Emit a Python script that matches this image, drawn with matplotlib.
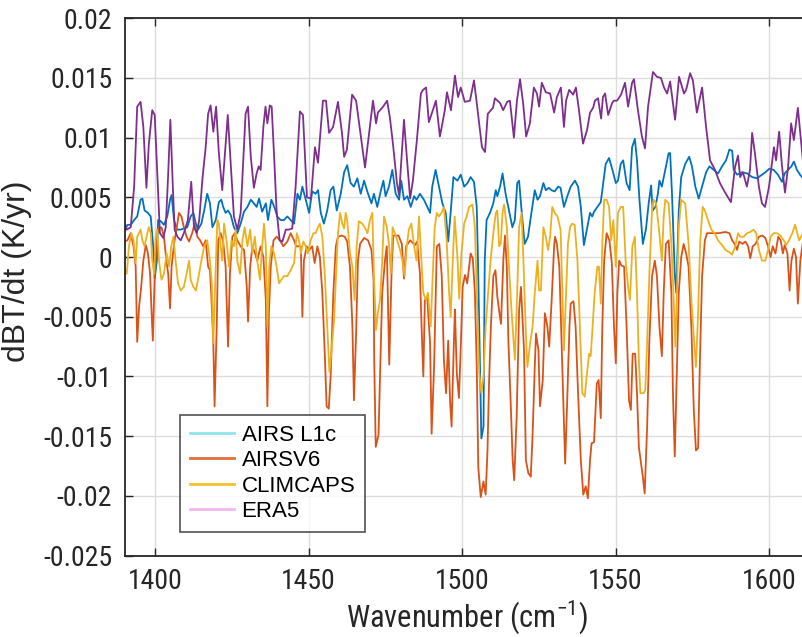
import numpy as np
import matplotlib
matplotlib.use("Agg")
import matplotlib.pyplot as plt
from matplotlib.lines import Line2D

plt.rcParams['font.family'] = ['Liberation Sans', 'DejaVu Sans']
plt.rcParams['axes.unicode_minus'] = False
plt.rcParams['mathtext.fontset'] = 'custom'
plt.rcParams['mathtext.rm'] = 'Roboto Condensed'
plt.rcParams['mathtext.it'] = 'Roboto Condensed:italic'
plt.rcParams['mathtext.default'] = 'regular'
narrow = ['Roboto Condensed', 'Archivo Narrow', 'Liberation Sans']

# trend values, in units of 1e-3 K/yr
airs_wn = [1389.9, 1391.0, 1392.1, 1393.2, 1394.2, 1395.3, 1395.9, 1396.6, 1397.7, 1398.6, 1399.4, 1399.9, 1400.6, 1401.0,
           1401.9, 1402.9, 1404.0, 1404.9, 1405.4, 1406.2, 1407.1, 1408.4, 1409.4, 1410.5, 1411.6, 1412.5, 1413.3, 1414.0,
           1415.1, 1416.0, 1417.0, 1417.9, 1418.7, 1419.8, 1420.8, 1421.6, 1422.2, 1423.0, 1423.8, 1424.7, 1425.7, 1426.8,
           1427.9, 1429.0, 1430.1, 1431.2, 1432.2, 1433.1, 1433.9, 1434.9, 1436.1, 1436.8, 1437.9, 1439.0, 1439.8, 1440.9,
           1442.0, 1443.1, 1444.2, 1445.3, 1446.4, 1447.2, 1448.0, 1449.1, 1450.2, 1451.2, 1452.3, 1453.1, 1454.0, 1455.0,
           1456.1, 1457.2, 1458.1, 1459.2, 1460.5, 1461.6, 1462.6, 1463.7, 1464.8, 1465.9, 1467.0, 1468.1, 1469.4, 1470.5,
           1471.3, 1472.4, 1473.5, 1474.4, 1475.1, 1476.2, 1477.3, 1478.4, 1479.5, 1480.2, 1481.1, 1482.2, 1483.3, 1484.4,
           1485.2, 1486.3, 1487.6, 1488.7, 1489.6, 1490.3, 1491.4, 1492.5, 1493.6, 1494.7, 1495.5, 1496.3, 1497.2, 1498.5,
           1499.6, 1500.7, 1501.8, 1502.8, 1503.9, 1504.8, 1505.2, 1505.9, 1506.3, 1507.0, 1507.4, 1508.0, 1509.1, 1510.2,
           1511.0, 1511.5, 1512.4, 1513.2, 1514.2, 1515.3, 1516.4, 1517.2, 1518.0, 1518.6, 1519.3, 1520.4, 1521.5, 1522.6,
           1523.7, 1524.6, 1525.4, 1526.5, 1527.3, 1528.3, 1529.1, 1530.2, 1531.3, 1532.1, 1533.2, 1534.3, 1535.4, 1536.8,
           1537.8, 1538.7, 1539.7, 1540.8, 1541.7, 1542.4, 1543.0, 1544.1, 1545.2, 1546.0, 1546.8, 1547.9, 1549.0, 1550.1,
           1550.8, 1551.7, 1552.5, 1553.6, 1554.6, 1555.4, 1556.3, 1557.0, 1557.8, 1558.9, 1559.9, 1560.8, 1561.6, 1562.1,
           1563.0, 1563.8, 1564.3, 1565.1, 1566.2, 1567.3, 1567.8, 1568.4, 1569.3, 1569.8, 1570.6, 1571.4, 1572.7, 1574.0,
           1574.9, 1576.0, 1577.1, 1578.2, 1579.5, 1580.6, 1582.0, 1583.4, 1584.7, 1586.0, 1587.1, 1588.0, 1588.5, 1589.6,
           1591.2, 1592.9, 1594.5, 1596.1, 1597.7, 1598.8, 1600.1, 1601.5, 1602.9, 1604.2, 1605.1, 1606.2, 1607.3, 1608.1,
           1609.1, 1610.1, 1611.1]
airs_val = [2.0, 2.7, 2.7, 3.1, 3.4, 4.8, 4.9, 3.9, 3.7, 3.4, 0.9, -1.8, -0.3, 3.1,
            3.0, 2.7, 3.4, 4.8, 5.2, 3.1, 2.3, 2.3, 2.4, 2.5, 3.4, 3.7, 2.8, 2.3,
            2.8, 3.9, 5.3, 4.5, 2.5, 3.1, 4.6, 4.8, 4.2, 3.7, 3.9, 3.5, 2.5, 2.0,
            2.8, 3.8, 4.2, 4.8, 4.5, 4.2, 4.9, 3.8, 4.5, 3.1, 4.8, 4.1, 3.4, 3.1,
            3.1, 3.4, 3.1, 2.8, 5.3, 4.8, 5.9, 4.8, 3.7, 5.5, 5.3, 5.6, 3.7, 2.8,
            3.9, 5.6, 5.9, 3.9, 5.3, 7.1, 7.7, 6.2, 5.9, 6.6, 5.3, 6.4, 5.3, 4.5,
            5.3, 4.2, 5.5, 6.4, 5.1, 5.9, 7.3, 5.3, 4.8, 6.4, 4.8, 5.1, 4.2, 5.1,
            4.8, 5.3, 4.8, 4.2, 3.7, 5.9, 7.3, 5.9, 4.5, 3.7, 1.3, 3.7, 6.7, 6.4,
            6.9, 5.9, 6.2, 6.7, 6.3, 4.2, -0.3, -10.0, -15.2, -14.2, -0.3, 3.1, 3.7, 4.5,
            5.6, 5.1, 5.9, 7.0, 5.3, 3.9, 2.5, 3.1, 6.2, 6.4, 4.2, 1.1, 1.7, 3.7,
            5.6, 4.8, 5.1, 6.2, 5.6, 5.8, 5.6, 5.5, 5.9, 5.8, 4.2, 5.1, 5.9, 6.4,
            5.9, 4.2, 1.0, 2.5, 3.7, 3.4, 3.8, 4.2, 4.6, 6.2, 7.8, 8.3, 7.3, 6.2,
            6.4, 7.8, 8.1, 6.2, 5.6, 9.2, 9.9, 8.1, 4.8, 1.1, 2.3, 4.5, 6.0, 3.9,
            4.2, 5.3, 6.4, 5.9, 7.3, 8.7, 8.7, 5.3, -1.4, -3.0, 3.9, 6.7, 7.8, 8.4,
            7.6, 5.9, 4.9, 5.9, 7.1, 7.6, 7.3, 7.0, 7.6, 8.1, 9.0, 8.9, 7.3, 6.9,
            7.1, 7.0, 6.7, 6.6, 6.9, 7.1, 7.4, 7.3, 6.9, 6.3, 7.0, 7.3, 7.6, 8.0,
            7.3, 6.9, 6.6]

v6_wn = [1389.9, 1391.0, 1392.1, 1393.0, 1393.7, 1394.2, 1394.8, 1395.5, 1396.2, 1397.0, 1397.7, 1398.4, 1398.9, 1399.3,
         1399.9, 1400.6, 1401.3, 1402.1, 1402.9, 1403.8, 1404.3, 1404.9, 1405.4, 1406.2, 1407.1, 1407.8, 1408.6, 1409.4,
         1410.3, 1411.1, 1412.1, 1412.9, 1413.8, 1414.7, 1415.7, 1416.5, 1417.3, 1417.9, 1418.3, 1419.0, 1419.4, 1420.1,
         1420.6, 1421.4, 1422.2, 1423.0, 1423.8, 1424.4, 1425.2, 1426.0, 1426.8, 1427.9, 1429.0, 1429.9, 1430.3, 1431.0,
         1431.7, 1432.5, 1433.3, 1434.4, 1435.3, 1436.1, 1436.6, 1437.1, 1437.7, 1438.6, 1439.6, 1440.7, 1441.8, 1443.1,
         1444.2, 1445.3, 1446.0, 1447.5, 1448.0, 1448.5, 1449.4, 1450.2, 1451.2, 1452.0, 1452.9, 1453.7, 1454.5, 1455.3,
         1455.9, 1456.6, 1457.2, 1458.1, 1458.9, 1459.6, 1460.7, 1461.8, 1462.6, 1463.5, 1464.3, 1464.8, 1465.5, 1466.1,
         1466.8, 1468.1, 1469.4, 1470.5, 1471.2, 1471.4, 1471.9, 1472.8, 1473.3, 1474.0, 1474.9, 1475.5, 1476.3, 1477.1,
         1477.6, 1479.3, 1480.4, 1481.1, 1481.8, 1483.1, 1484.7, 1485.4, 1486.3, 1486.9, 1487.4, 1487.9, 1488.7, 1489.6,
         1490.1, 1490.9, 1491.8, 1492.6, 1493.4, 1494.1, 1494.8, 1495.5, 1496.1, 1496.6, 1497.4, 1497.7, 1498.3, 1499.0,
         1499.6, 1500.2, 1501.0, 1501.7, 1502.8, 1503.5, 1504.2, 1504.8, 1505.3, 1506.1, 1507.0, 1507.7, 1508.3, 1508.8,
         1509.4, 1510.2, 1510.9, 1511.5, 1512.2, 1512.7, 1513.5, 1514.0, 1514.6, 1515.1, 1515.9, 1516.5, 1517.0, 1517.8,
         1518.6, 1519.2, 1520.2, 1520.8, 1521.6, 1522.4, 1523.0, 1523.7, 1524.1, 1524.9, 1525.4, 1526.3, 1527.0, 1527.8,
         1528.4, 1529.2, 1530.0, 1530.3, 1530.9, 1531.7, 1532.5, 1533.6, 1534.1, 1535.0, 1535.4, 1536.3, 1537.0, 1537.8,
         1538.7, 1539.5, 1540.3, 1541.0, 1541.7, 1542.2, 1543.0, 1543.9, 1544.5, 1545.2, 1545.7, 1546.3, 1547.1, 1548.0,
         1548.8, 1549.5, 1550.1, 1550.6, 1551.2, 1551.9, 1552.8, 1553.6, 1554.4, 1555.0, 1555.6, 1556.4, 1557.0, 1557.6,
         1558.9, 1559.5, 1560.3, 1561.0, 1561.9, 1562.8, 1563.5, 1564.3, 1565.1, 1565.7, 1566.4, 1567.3, 1568.2, 1568.7,
         1569.3, 1569.8, 1570.6, 1571.4, 1572.2, 1573.0, 1573.8, 1574.7, 1575.5, 1576.2, 1576.9, 1577.5, 1578.2, 1579.1,
         1579.8, 1581.4, 1583.6, 1585.8, 1587.1, 1588.0, 1588.8, 1589.6, 1590.3, 1591.4, 1592.3, 1593.2, 1593.9, 1594.7,
         1595.6, 1596.7, 1597.8, 1598.8, 1599.7, 1600.5, 1601.2, 1602.1, 1603.0, 1603.8, 1604.5, 1605.1, 1606.0, 1606.7,
         1607.3, 1608.1, 1608.8, 1609.4, 1610.2, 1611.1]
v6_val = [1.3, 1.4, 2.0, 0.9, -0.8, -7.1, -4.2, -2.5, -0.3, 1.0, 0.3, -1.4, -4.7, -7.0,
          -1.6, 2.0, 2.4, 2.5, 1.7, -0.5, -1.4, -4.3, -0.8, 1.1, 2.5, 3.7, 3.4, 2.5,
          1.7, 1.3, 2.0, 2.8, 1.7, 1.4, 0.9, 1.4, -0.8, -1.1, -3.0, -7.2, -12.5, -5.8,
          1.4, 2.0, 1.3, -0.8, -7.5, -1.4, 1.7, 2.0, 1.4, 0.9, 0.6, -2.5, -5.4, -0.8,
          0.9, 0.4, -0.3, 0.9, 0.0, -3.6, -12.5, -4.7, -0.8, 1.4, 1.7, 1.4, 0.9, 1.3,
          2.0, 1.4, 0.9, 0.9, -5.0, -0.3, 0.9, 0.6, 0.9, -0.5, 0.9, 0.0, -3.0, -8.1,
          -12.5, -12.7, -10.0, -3.0, 0.9, 1.7, 1.8, 1.7, 1.3, -0.8, -5.8, -12.0, -6.4, -0.3,
          1.1, 1.6, 1.4, 0.6, -1.9, -8.6, -15.9, -14.9, -10.0, -3.0, -0.3, 0.9, -9.0, -0.8,
          1.8, 1.8, 1.1, -1.8, 0.9, 1.4, 1.0, 1.3, -1.4, -6.4, -10.0, -3.6, -3.5, -7.2,
          -14.8, -9.2, 0.9, 1.1, -1.6, -8.6, -11.4, -7.0, -12.0, -14.2, -6.7, -4.4, -9.7, -11.8,
          -7.5, -2.5, -1.5, -2.2, 0.3, -0.1, -3.0, -9.2, -17.6, -20.1, -18.8, -19.9, -16.2, -10.6,
          -5.8, -1.6, -1.1, -3.3, -4.7, -5.6, 0.0, 1.8, -0.8, -7.0, -12.5, -17.0, -18.7, -13.4,
          -4.4, -2.5, -7.8, -17.0, -18.1, -18.4, -14.8, -9.2, -6.4, -7.8, -12.5, -10.3, -4.7, -5.8,
          -7.5, -3.6, 0.9, 1.7, 1.1, -0.8, -7.8, -17.3, -13.4, -5.8, -3.9, -3.7, -5.8, -11.4,
          -17.0, -19.9, -19.2, -20.2, -17.0, -15.6, -15.5, -10.6, -10.3, -13.5, -5.8, -0.3, 2.0, 1.4,
          -0.5, -5.8, -8.9, -3.0, -0.3, -0.7, -0.8, -5.8, -12.0, -12.8, -8.1, -8.1, -11.4, -15.9,
          -18.4, -19.8, -14.2, -7.2, -1.6, -0.3, -1.6, -5.8, -8.3, -3.0, 1.1, 1.4, -3.0, -11.4,
          -16.7, -11.4, -3.0, 0.0, 1.1, 0.3, -0.8, -5.8, -12.8, -16.2, -16.0, -8.6, -1.6, 1.4,
          2.0, 2.0, 2.0, 2.1, 2.0, 1.4, 1.1, 0.6, 1.3, 1.1, 1.3, 0.9, -0.1, 0.9,
          1.1, 1.7, 1.8, 1.6, 0.9, 0.0, 0.9, 0.3, 1.7, 1.4, 0.3, 1.0, 0.3, -2.8,
          -0.3, 0.7, 0.0, -3.9, -0.3, 1.4]

clim_wn = [1389.9, 1390.8, 1391.5, 1392.3, 1393.0, 1393.7, 1394.2, 1394.8, 1395.3, 1395.9, 1396.6, 1397.5, 1398.0, 1398.6,
           1399.1, 1399.7, 1400.2, 1400.7, 1401.3, 1402.1, 1402.9, 1403.8, 1404.6, 1405.3, 1406.0, 1406.7, 1407.5, 1408.4,
           1409.4, 1410.3, 1411.1, 1411.6, 1412.5, 1413.3, 1414.0, 1415.1, 1416.0, 1417.0, 1417.9, 1418.5, 1419.0, 1419.5,
           1420.3, 1420.8, 1421.4, 1421.9, 1422.5, 1423.3, 1424.1, 1424.9, 1425.7, 1426.3, 1426.8, 1427.7, 1428.5, 1429.2,
           1430.1, 1431.0, 1431.7, 1432.5, 1433.3, 1434.2, 1434.9, 1435.5, 1436.1, 1436.6, 1437.2, 1437.9, 1438.8, 1439.6,
           1440.4, 1441.1, 1442.0, 1443.1, 1444.2, 1445.3, 1446.2, 1446.9, 1447.5, 1448.3, 1449.1, 1449.8, 1450.7, 1451.6,
           1452.3, 1453.1, 1453.7, 1454.5, 1455.3, 1456.1, 1456.8, 1457.4, 1458.3, 1458.9, 1459.6, 1460.3, 1461.0, 1461.6,
           1462.1, 1462.6, 1463.5, 1464.3, 1465.0, 1465.7, 1466.4, 1467.5, 1468.3, 1469.2, 1470.0, 1470.8, 1471.3, 1472.0,
           1472.6, 1473.3, 1474.0, 1474.6, 1475.5, 1476.2, 1476.8, 1477.4, 1478.1, 1478.9, 1479.8, 1480.6, 1481.3, 1482.0,
           1482.7, 1483.5, 1484.4, 1485.2, 1486.0, 1486.5, 1487.4, 1488.2, 1488.9, 1489.8, 1490.5, 1491.1, 1491.8, 1492.5,
           1493.3, 1494.1, 1495.0, 1495.8, 1496.3, 1497.0, 1497.6, 1498.5, 1499.1, 1499.8, 1500.7, 1501.5, 1502.3, 1503.4,
           1504.2, 1504.8, 1505.6, 1506.3, 1507.0, 1507.7, 1508.5, 1509.3, 1510.2, 1511.0, 1511.5, 1512.1, 1512.6, 1513.2,
           1513.7, 1514.6, 1515.3, 1516.1, 1517.2, 1517.8, 1518.6, 1519.4, 1520.0, 1520.8, 1521.3, 1522.2, 1523.0, 1523.7,
           1524.6, 1525.1, 1525.7, 1526.5, 1527.3, 1528.0, 1528.7, 1529.4, 1530.2, 1531.1, 1532.1, 1532.7, 1533.2, 1533.9,
           1534.5, 1535.2, 1535.9, 1536.7, 1537.6, 1538.4, 1539.2, 1540.0, 1540.6, 1541.4, 1541.9, 1542.4, 1543.2, 1544.1,
           1544.6, 1545.2, 1545.7, 1546.3, 1547.1, 1547.9, 1548.6, 1549.3, 1550.1, 1550.8, 1551.7, 1552.5, 1553.3, 1554.1,
           1554.7, 1555.5, 1556.3, 1557.0, 1557.6, 1558.1, 1559.2, 1559.7, 1560.3, 1561.0, 1561.9, 1562.4, 1563.2, 1564.1,
           1565.1, 1565.7, 1566.2, 1567.3, 1568.2, 1569.0, 1569.5, 1570.0, 1570.6, 1571.4, 1572.7, 1573.8, 1574.7, 1575.5,
           1576.2, 1576.9, 1577.6, 1578.4, 1579.1, 1580.1, 1581.2, 1582.3, 1583.4, 1584.7, 1585.8, 1587.1, 1588.0, 1589.0,
           1589.9, 1590.6, 1591.8, 1592.8, 1593.9, 1595.0, 1595.8, 1596.7, 1597.7, 1598.8, 1599.7, 1600.5, 1601.5, 1602.6,
           1603.7, 1604.8, 1605.6, 1606.5, 1607.6, 1608.5, 1609.2, 1609.8, 1611.1]
clim_val = [-0.8, -1.4, 0.9, 2.0, 1.4, -0.5, 1.7, 2.0, 2.3, 1.4, 0.9, 2.0, 2.5, 2.0,
            -0.3, -1.4, 1.7, 2.3, -0.3, -1.9, -1.4, 0.3, -0.8, 0.9, 1.7, -0.3, -2.2, -2.8,
            -2.5, -1.4, -0.3, -1.9, -2.5, -2.8, -1.9, -0.3, 0.9, 1.4, -0.3, -2.2, -7.2, -3.0,
            3.1, 2.8, 0.9, -0.3, 2.8, 1.4, -0.8, 1.4, 0.9, 2.3, -0.3, -1.4, 1.4, 2.5,
            0.9, 2.3, 0.3, 1.7, -0.3, -1.9, 0.9, 2.8, 0.9, -5.8, -0.8, 0.9, 0.3, -0.8,
            -2.2, -1.9, -1.6, -1.6, -1.1, -0.5, 2.0, 1.4, 0.3, 1.3, 0.9, 0.3, 1.4, 2.0,
            2.0, 2.5, 2.8, 1.7, -1.4, -5.8, -9.6, -8.1, -5.3, -1.9, 2.0, 3.7, 2.8, 2.4,
            3.7, 3.1, 0.3, -0.8, -3.6, 0.9, 3.0, 2.8, 2.5, 2.0, 3.1, 3.7, -1.4, -6.1,
            -4.7, -3.6, -0.3, 3.4, 2.5, 1.1, -1.4, 2.5, 2.0, 1.4, 0.6, -0.3, -1.6, 0.9,
            2.3, 2.8, 0.9, -0.3, 3.4, 0.9, -3.0, -3.6, -3.0, -5.8, -1.4, 2.5, 3.7, 3.4,
            3.7, 4.2, 1.4, -3.0, -5.0, -0.3, 3.4, 0.0, -3.5, 0.3, 2.8, 3.4, 4.2, 4.4,
            2.5, -3.0, -9.7, -11.4, -10.0, -5.8, -3.0, -0.3, 2.0, 3.7, 3.9, 0.9, 1.1, 3.7,
            4.4, 2.5, -0.8, -4.4, -8.6, -4.4, 2.5, 3.7, -0.3, -6.4, -9.2, -7.2, -5.8, -3.0,
            -0.3, -2.8, -2.8, 2.5, 1.7, 0.6, 1.7, 4.2, 3.7, 3.4, 2.3, -3.0, -7.8, -3.0,
            1.1, 2.5, 2.8, 2.7, -0.3, -5.8, -11.4, -11.7, -10.0, -8.1, -8.3, -6.4, -3.0, -0.8,
            -0.8, -3.9, 1.1, 4.8, 4.8, 4.2, 1.4, 3.1, -0.8, 3.7, 4.2, 4.2, -0.3, -2.5,
            -3.6, 0.9, 1.7, -3.0, -8.6, -11.4, -11.4, -11.1, -7.2, -1.6, 3.9, 4.8, 4.5, 2.5,
            -0.3, 3.4, 4.8, 4.5, 1.1, -3.9, -7.5, -3.0, 2.5, 4.8, 4.5, 1.1, -3.6, -6.7,
            -9.2, -4.7, 1.4, 4.2, 3.9, 3.1, 2.3, 2.0, 1.4, 1.0, 0.6, 0.4, 0.2, 0.9,
            2.0, 1.7, 1.7, 2.0, 2.1, 2.3, 2.0, 0.6, -0.3, -0.3, 0.6, 1.7, 2.0, 2.0,
            1.8, 1.4, 1.0, 1.4, 2.0, 2.7, 2.0, 1.4, 2.0]

era5_wn = [1389.9, 1390.8, 1392.1, 1393.2, 1394.2, 1395.3, 1396.2, 1397.2, 1398.0, 1399.1, 1399.9, 1400.8, 1401.6, 1402.7,
           1403.5, 1404.3, 1405.0, 1405.8, 1406.4, 1407.3, 1408.4, 1409.4, 1410.7, 1411.8, 1412.7, 1413.6, 1414.4, 1415.5,
           1416.5, 1417.3, 1418.1, 1419.0, 1419.9, 1420.8, 1421.9, 1422.8, 1423.7, 1424.6, 1425.7, 1426.8, 1427.9, 1428.8,
           1429.5, 1430.3, 1431.2, 1432.2, 1433.1, 1433.8, 1434.4, 1435.3, 1436.0, 1436.6, 1437.4, 1438.0, 1438.8, 1439.6,
           1440.6, 1441.5, 1442.6, 1443.6, 1444.7, 1445.8, 1447.2, 1448.2, 1449.5, 1450.8, 1452.1, 1453.1, 1454.7, 1455.7,
           1456.7, 1458.0, 1459.6, 1460.9, 1461.6, 1462.5, 1464.2, 1465.5, 1468.4, 1471.0, 1472.0, 1472.6, 1474.3, 1475.6,
           1476.5, 1477.5, 1478.8, 1479.5, 1481.1, 1482.1, 1483.1, 1484.0, 1485.3, 1486.6, 1487.3, 1488.3, 1489.2, 1490.5,
           1491.5, 1492.8, 1494.4, 1495.1, 1496.4, 1497.7, 1498.7, 1499.6, 1500.9, 1502.6, 1503.9, 1504.8, 1506.5, 1507.5,
           1508.4, 1510.1, 1510.7, 1512.4, 1513.4, 1514.7, 1515.6, 1516.9, 1517.9, 1518.9, 1519.9, 1520.9, 1522.1, 1523.4,
           1524.4, 1525.1, 1526.0, 1527.3, 1528.7, 1530.0, 1530.9, 1532.2, 1533.2, 1533.9, 1534.9, 1536.2, 1537.1, 1538.1,
           1539.4, 1540.7, 1541.7, 1542.7, 1543.3, 1544.3, 1545.3, 1545.9, 1546.6, 1547.6, 1548.9, 1549.5, 1550.5, 1551.8,
           1553.1, 1554.1, 1555.4, 1556.0, 1557.3, 1558.6, 1559.6, 1560.6, 1562.2, 1563.5, 1564.8, 1565.8, 1566.8, 1567.8,
           1569.4, 1570.7, 1572.3, 1573.0, 1574.3, 1575.2, 1576.5, 1578.2, 1579.5, 1580.8, 1582.4, 1584.0, 1585.7, 1587.6,
           1588.9, 1589.9, 1590.6, 1591.5, 1592.8, 1593.8, 1594.5, 1595.4, 1596.7, 1597.7, 1598.7, 1600.0, 1601.6, 1602.3,
           1603.3, 1604.2, 1605.2, 1606.2, 1607.2, 1608.1, 1609.4, 1610.1, 1611.1]
era5_val = [2.8, 2.3, 2.5, 5.9, 12.6, 13.0, 10.9, 5.8, 9.5, 12.3, 11.9, 6.7, 2.0, 1.6,
            2.5, 7.0, 11.5, 5.9, 2.3, 1.7, 1.4, 2.0, 3.1, 6.3, 2.5, 2.0, 3.1, 6.7,
            9.2, 12.0, 12.7, 10.5, 12.6, 8.7, 5.6, 8.7, 11.9, 8.1, 3.4, 2.3, 3.7, 8.4,
            12.0, 12.6, 8.4, 5.8, 7.0, 7.6, 7.3, 10.9, 12.6, 11.2, 12.7, 12.6, 8.4, 3.9,
            1.4, 1.3, 2.3, 2.3, 2.4, 5.9, 12.2, 11.9, 5.0, 4.9, 9.2, 7.9, 13.1, 13.1,
            10.4, 10.9, 13.0, 10.4, 8.4, 9.0, 13.6, 13.1, 7.5, 13.1, 11.2, 12.1, 12.6, 13.1,
            11.7, 9.5, 6.2, 5.2, 11.5, 8.1, 4.9, 6.4, 9.8, 13.7, 14.0, 14.2, 11.3, 12.3,
            13.1, 10.1, 12.3, 13.8, 12.3, 15.2, 13.4, 14.2, 13.0, 13.1, 14.8, 12.9, 9.2, 8.8,
            12.0, 12.5, 13.3, 12.9, 12.3, 13.0, 13.1, 10.0, 13.1, 14.9, 12.9, 10.1, 11.2, 14.2,
            13.7, 12.6, 14.6, 13.8, 13.7, 12.1, 13.4, 14.2, 10.9, 13.1, 14.0, 13.6, 14.2, 12.3,
            9.5, 10.6, 12.1, 12.5, 13.1, 13.3, 11.6, 13.4, 13.7, 11.9, 12.9, 13.1, 13.1, 13.6,
            14.6, 12.6, 14.6, 14.9, 12.3, 10.1, 9.1, 12.6, 15.5, 15.1, 15.0, 14.2, 13.7, 14.7,
            11.5, 15.1, 13.7, 14.0, 15.4, 14.8, 12.1, 14.2, 10.9, 8.1, 7.3, 6.2, 5.4, 4.6,
            7.5, 8.5, 6.7, 7.1, 5.9, 7.3, 10.4, 8.7, 5.9, 4.5, 4.2, 5.9, 9.2, 8.1,
            10.5, 7.7, 5.4, 7.5, 11.2, 9.8, 12.5, 10.6, 7.9]

series = [
    ("AIRS L1c", airs_wn, airs_val, "#0072BD", "#8FE3EA"),
    ("AIRSV6", v6_wn, v6_val, "#D95319", "#E0703A"),
    ("CLIMCAPS", clim_wn, clim_val, "#EDB120", "#F2C232"),
    ("ERA5", era5_wn, era5_val, "#7E2F8E", "#F2B8F2"),
]

fig = plt.figure(figsize=(8.03, 6.37), dpi=100)
ax = fig.add_axes([0.1553, 0.1279, 0.8447, 0.8434])

for name, wn, val, col, _ in series:
    ax.plot(wn, np.array(val) * 1e-3, color=col, lw=1.3)

ax.set_xlim(1390.13, 1611.07)
ax.set_ylim(-0.025, 0.02)

yt = [0.02, 0.015, 0.01, 0.005, 0, -0.005, -0.01, -0.015, -0.02, -0.025]
ax.set_yticks(yt, labels=['%g' % v for v in yt])
ax.set_xticks([1400, 1450, 1500, 1550, 1600])

ax.grid(True, color='#dcdcdc', lw=1.0)
ax.set_axisbelow(True)
ax.spines['right'].set_visible(False)
for s in ['left', 'bottom', 'top']:
    ax.spines[s].set_color('#262626')
    ax.spines[s].set_linewidth(1.3)
ax.tick_params(direction='in', length=6, width=1.0, color='#262626', top=True,
               labelsize=20, labelcolor='#262626', pad=9, labelfontfamily=narrow)

ax.set_xlabel('Wavenumber (cm$^{-1}$)', fontsize=22, color='#262626', family=narrow)
ax.xaxis.set_label_coords(0.505, -0.08)
ax.set_ylabel('dBT/dt (K/yr)', fontsize=23, color='#262626')
ax.yaxis.set_label_coords(-0.136, 0.53)

handles = [Line2D([], [], color=lc, lw=2.0) for _, _, _, _, lc in series]
leg = ax.legend(handles, [s[0] for s in series], loc='lower left',
                bbox_to_anchor=(0.0815, 0.0437),
                prop={'family': 'Liberation Sans', 'size': 16},
                frameon=True, fancybox=False, edgecolor='#262626',
                handlelength=2.0, handletextpad=0.32, labelspacing=0.2,
                borderpad=0.45, borderaxespad=0)
leg.get_frame().set_linewidth(1.2)

fig.savefig('out.png', dpi=100)
